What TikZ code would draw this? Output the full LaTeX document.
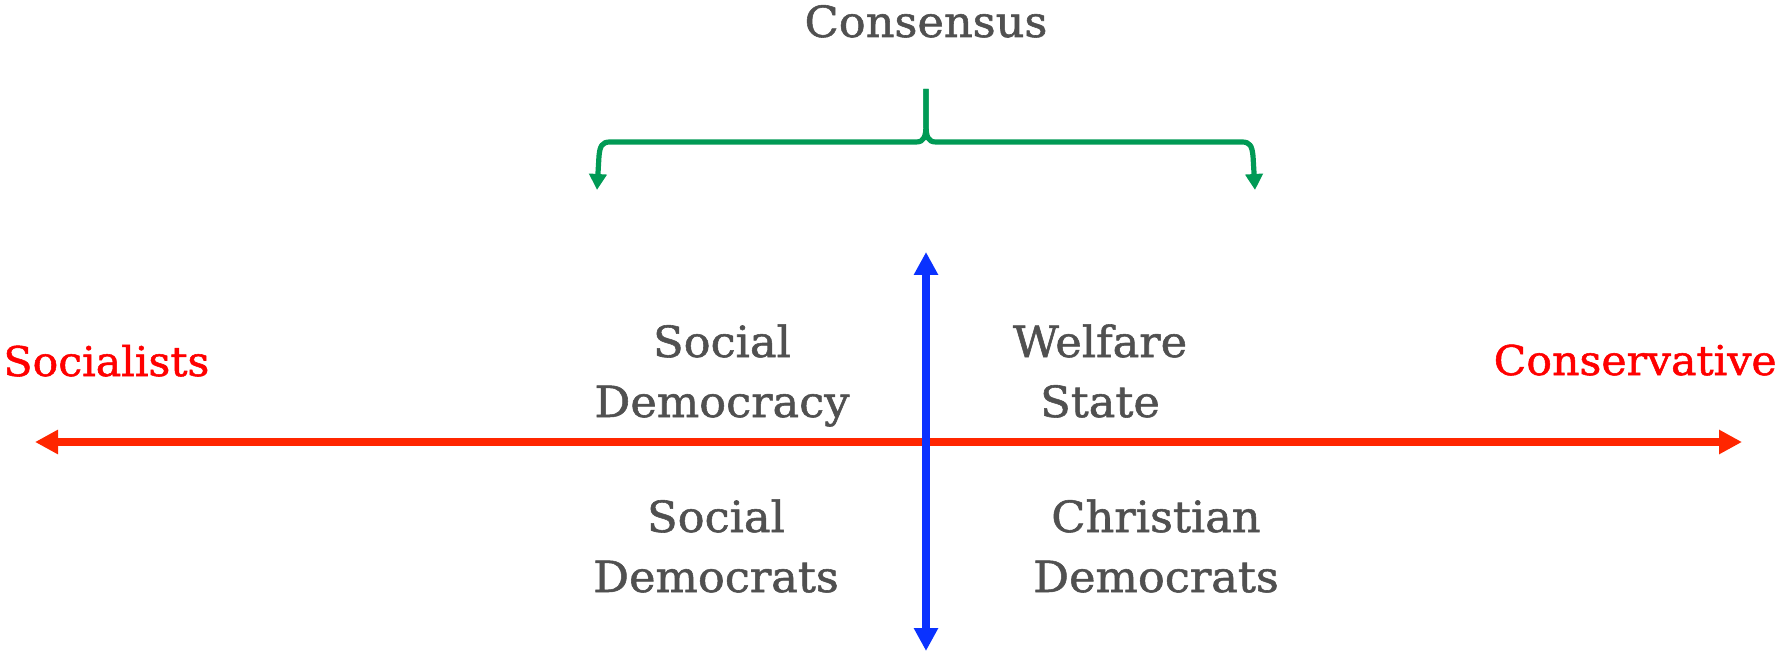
\documentclass[tikz,border=0pt]{standalone}
\usepackage{fontspec}
\setmainfont[FakeStretch=1.04,FakeBold=1.3]{DejaVu Serif}
\usetikzlibrary{arrows.meta}
\definecolor{txtgray}{HTML}{505050}
\definecolor{poleRed}{HTML}{FF0000}
\definecolor{axisRed}{HTML}{FF2600}
\definecolor{axisBlue}{HTML}{0A32FF}
\definecolor{braceGreen}{HTML}{009A55}
\begin{document}
\begin{tikzpicture}[x=0.5pt,y=-0.5pt,
  lbl/.style={text=txtgray, font=\fontsize{21.5}{30}\selectfont, align=center, inner sep=0pt},
  pole/.style={text=poleRed, font=\fontsize{20.5}{30}\selectfont, inner sep=0pt},
  redaxis/.style={draw=axisRed, line width=3.6pt, {Triangle[length=11.5pt,width=11.5pt]}-{Triangle[length=11.5pt,width=11.5pt]}},
  blueaxis/.style={draw=axisBlue, line width=3.6pt, {Triangle[length=11.5pt,width=11.5pt]}-{Triangle[length=11.5pt,width=11.5pt]}},
  bracearm/.style={draw=braceGreen, line width=2.6pt, line join=round, -{Triangle[length=8pt,width=8.5pt]}}
]
\useasboundingbox (0,0) rectangle (1782,652);
% texts
\node[lbl, anchor=base] (cons) at (926,37) {Consensus};
\node[pole, anchor=base west] (soc) at (3,376) {Socialists};
\node[pole, anchor=base east] (conv) at (1777,375) {Conservative};
\node[lbl, anchor=base] (sdy) at (722,417) {Social\\Democracy};
\node[lbl, anchor=base] (ws) at (1100,417) {Welfare\\State};
\node[lbl, anchor=base] (sds) at (716,592) {Social\\Democrats};
\node[lbl, anchor=base] (cd) at (1156,592) {Christian\\Democrats};
% axes
\coordinate (L) at (35,442);
\coordinate (R) at (1742,442);
\coordinate (T) at (926,252);
\coordinate (B) at (926,651);
\draw[redaxis] (L) -- (R);
\draw[blueaxis] (T) -- (B);
% brace
\coordinate (btop) at (926,89);
\coordinate (bl) at (597,190);
\coordinate (br) at (1255,190);
\draw[bracearm] (btop) -- (926,124) .. controls (926,137) and (924,142) .. (916,142) -- (610,142) .. controls (602,142) and (600,146) .. (599,156) -- (bl);
\draw[bracearm] (btop) -- (926,124) .. controls (926,137) and (928,142) .. (936,142) -- (1242,142) .. controls (1250,142) and (1252,146) .. (1253,156) -- (br);
\end{tikzpicture}
\end{document}
